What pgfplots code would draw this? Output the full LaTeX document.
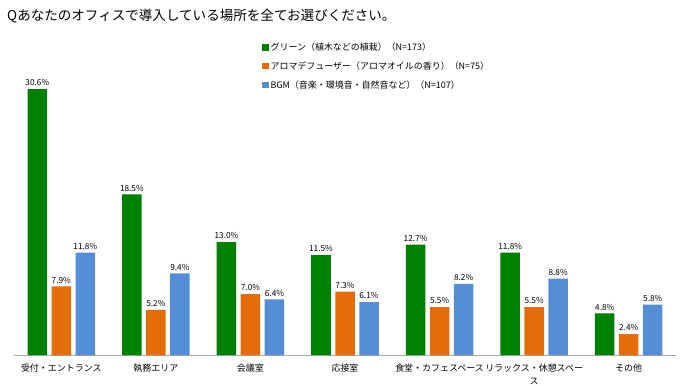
\documentclass[border=0pt]{standalone}
\usepackage{pgfplots}
\pgfplotsset{compat=1.18}
\usepackage{fontspec}
\setmainfont{Noto Sans CJK JP}
\definecolor{cgreen}{RGB}{0,128,0}
\definecolor{corange}{RGB}{228,108,10}
\definecolor{cblue}{RGB}{85,142,213}
\begin{document}
\begin{tikzpicture}
\path[use as bounding box] (0,0) rectangle (684bp,386bp);
\node[anchor=west,inner sep=0pt,font=\fontsize{13.6}{15}\selectfont] at (7bp,370bp) {Qあなたのオフィスで導入している場所を全てお選びください。};
\begin{axis}[
  at={(14bp,31bp)}, anchor=south west,
  scale only axis, width=662bp, height=304bp,
  ymin=0, ymax=35, xmin=-0.5, xmax=6.5,
  axis y line=none,
  axis x line*=bottom,
  x axis line style={draw=gray!70,-},
  xtick=data,
  xticklabels={受付・エントランス,執務エリア,会議室,応接室,食堂・カフェスペース,リラックス・休憩スペー\\ス,その他},
  xticklabel style={align=center,font=\fontsize{9}{13}\selectfont,yshift=-5bp},
  major tick length=0pt,
  ybar=0pt, bar width=19.5bp,
  nodes near coords={\pgfmathprintnumber[fixed,fixed zerofill,precision=1,assume math mode=true]{\pgfplotspointmeta}\%},
  every node near coord/.append style={font=\fontsize{8.3}{10}\selectfont,inner sep=3pt},
  legend style={at={(0.37,1.04)},anchor=north west,draw=none,fill=none,
    font=\fontsize{9}{11}\selectfont,row sep=5.5bp,cells={anchor=west}},
  legend image code/.code={\fill[#1] (0bp,-3.2bp) rectangle (6.5bp,3.3bp);},
]
\addplot[fill=cgreen,draw=none,bar shift=-24bp] coordinates {(0,30.6) (1,18.5) (2,13.0) (3,11.5) (4,12.7) (5,11.8) (6,4.8)};
\addplot[fill=corange,draw=none,bar shift=0bp] coordinates {(0,7.9) (1,5.2) (2,7.0) (3,7.3) (4,5.5) (5,5.5) (6,2.4)};
\addplot[fill=cblue,draw=none,bar shift=24bp] coordinates {(0,11.8) (1,9.4) (2,6.4) (3,6.1) (4,8.2) (5,8.8) (6,5.8)};
\legend{グリーン（植木などの植栽）（N=173）,アロマデフューザー（アロマオイルの香り）（N=75）,BGM（音楽・環境音・自然音など）（N=107）}
\end{axis}
\end{tikzpicture}
\end{document}
